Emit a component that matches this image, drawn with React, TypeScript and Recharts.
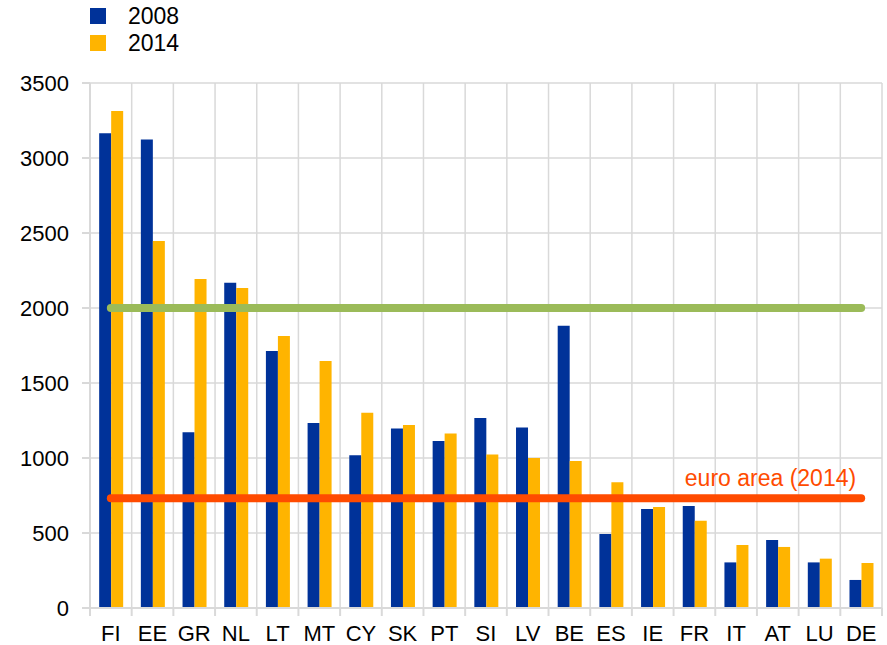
import React from 'react';
import { ComposedChart, Bar, Line, XAxis, YAxis, CartesianGrid, Legend } from 'recharts';

const categories = ['FI', 'EE', 'GR', 'NL', 'LT', 'MT', 'CY', 'SK', 'PT', 'SI', 'LV', 'BE', 'ES', 'IE', 'FR', 'IT', 'AT', 'LU', 'DE'];
const values2008 = [3165, 3124, 1171, 2169, 1713, 1233, 1018, 1196, 1113, 1267, 1204, 1882, 493, 660, 680, 304, 453, 304, 187];
const values2014 = [3313, 2447, 2193, 2133, 1813, 1647, 1302, 1220, 1164, 1024, 1000, 980, 838, 673, 582, 420, 407, 329, 300];
const benchmark = 2000;
const euroArea2014 = 731;
const yTicks = [0, 500, 1000, 1500, 2000, 2500, 3000, 3500];
const seriesNames = ['2008', '2014'];
const euroAreaLabel = 'euro area (2014)';

const data = categories.map((c, i) => ({
  cat: c,
  v2008: values2008[i],
  v2014: values2014[i],
  bench: benchmark,
  ea: euroArea2014,
}));

const FONT = '"Liberation Sans", Arial, Helvetica, sans-serif';
const BLUE = '#003299';
const YELLOW = '#FFB400';
const GREEN = '#9BBB59';
const ORANGE = '#FF4B00';
const GRID = '#d9d9d9';
const TICK_SIZE = 8;
const TICK_MARGIN = 9;

const XTick = (props: any) => {
  const { x, y, payload, index } = props;
  const off = payload && typeof payload.offset === 'number' ? payload.offset : 0;
  const axisY = y - TICK_SIZE - TICK_MARGIN;
  const last = index === categories.length - 1;
  return (
    <g>
      <line x1={x - off} x2={x - off} y1={axisY} y2={axisY + TICK_SIZE} stroke={GRID} strokeWidth={2} />
      {last && <line x1={x + off} x2={x + off} y1={axisY} y2={axisY + TICK_SIZE} stroke={GRID} strokeWidth={2} />}
      <text x={x} y={y} dy="0.71em" textAnchor="middle" fontSize={22} fontFamily={FONT} fill="#000">
        {payload.value}
      </text>
    </g>
  );
};

const EALabel = (props: any) => {
  const { x, y, index } = props;
  if (index !== categories.length - 1) return null;
  return (
    <text x={x - 5} y={y - 12} textAnchor="end" fontSize={23} fontFamily={FONT} fill={ORANGE}>
      {euroAreaLabel}
    </text>
  );
};

const LegendContent = () => {
  const colors = [BLUE, YELLOW];
  return (
    <svg width={200} height={56} style={{ display: 'block' }}>
      {seriesNames.map((n, i) => (
        <g key={n}>
          <rect x={0} y={8 + i * 27} width={16} height={16} fill={colors[i]} />
          <text x={38} y={16 + i * 27} dy="0.36em" fontSize={23} fontFamily={FONT} fill="#000">
            {n}
          </text>
        </g>
      ))}
    </svg>
  );
};

export default function App() {
  return (
    <div style={{ position: 'absolute', left: 0, top: 0, width: 887, height: 645, background: '#fff' }}>
      <ComposedChart
        width={887}
        height={645}
        data={data}
        margin={{ top: 83, right: 5, bottom: 0, left: 0 }}
        barCategoryGap="22%"
        barGap={0}
      >
        <CartesianGrid
          stroke={GRID}
          strokeWidth={1.5}
          verticalCoordinatesGenerator={(p: any) => {
            const o = p.offset;
            return categories.map((_, i) => o.left + (i * o.width) / categories.length).concat([o.left + o.width]);
          }}
        />
        <XAxis
          dataKey="cat"
          tick={<XTick />}
          tickLine={false}
          tickSize={TICK_SIZE}
          tickMargin={TICK_MARGIN}
          axisLine={{ stroke: GRID, strokeWidth: 2 }}
          interval={0}
          height={37}
        />
        <YAxis
          width={90}
          domain={[0, 3500]}
          ticks={yTicks}
          interval={0}
          tickSize={8}
          tickMargin={13}
          tickLine={{ stroke: GRID, strokeWidth: 2 }}
          axisLine={{ stroke: GRID, strokeWidth: 2 }}
          tick={{ fontSize: 22, fontFamily: FONT, fill: '#000' }}
        />
        <Legend
          layout="vertical"
          align="center"
          verticalAlign="middle"
          content={<LegendContent />}
          wrapperStyle={{ position: 'absolute', left: 90, top: 0, width: 200, height: 56 }}
        />
        <Bar dataKey="v2008" name={seriesNames[0]} fill={BLUE} isAnimationActive={false} />
        <Bar dataKey="v2014" name={seriesNames[1]} fill={YELLOW} isAnimationActive={false} />
        <Line
          dataKey="bench"
          type="linear"
          stroke={GREEN}
          strokeWidth={8}
          strokeLinecap="round"
          dot={false}
          activeDot={false}
          legendType="none"
          isAnimationActive={false}
        />
        <Line
          dataKey="ea"
          type="linear"
          stroke={ORANGE}
          strokeWidth={8}
          strokeLinecap="round"
          dot={false}
          activeDot={false}
          legendType="none"
          label={<EALabel />}
          isAnimationActive={false}
        />
      </ComposedChart>
    </div>
  );
}
